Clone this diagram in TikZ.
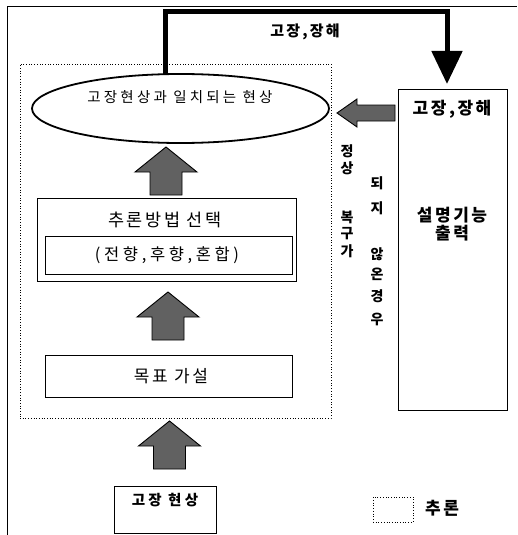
\documentclass[tikz,border=0pt]{standalone}
\usepackage{fontspec}
\setmainfont{Noto Sans CJK KR}
\newfontfamily\kr[LetterSpace=15]{Noto Sans CJK KR}
\newfontfamily\krw[LetterSpace=22]{Noto Sans CJK KR}
\usetikzlibrary{shapes.geometric,arrows.meta,patterns}
\begin{document}
\begin{tikzpicture}[x=1pt,y=-1pt,
  thinbox/.style={draw,line width=0.8pt,rectangle,inner sep=0pt},
  dotbox/.style={draw,dotted,line width=0.7pt,inner sep=0pt},
  lbl/.style={inner sep=0pt,font=\kr},
  fatfill/.style={draw=black,line width=0.9pt,fill=black!62},
  pics/fatup/.style={code={
    \draw[fatfill] (0,0) -- (31,25) -- (16,25) -- (16,48) -- (-16,48) -- (-16,25) -- (-31,25) -- cycle;}}]
\useasboundingbox (0,0) rectangle (517,535);
% outer frame
\draw[line width=0.7pt] (7,535) -- (7,6) -- (517,6);
% dotted inference area
\node[dotbox,minimum width=311pt,minimum height=354pt] (inf) at (175.5,241) {};
% ellipse
\node[ellipse,draw,line width=1.8pt,minimum width=297pt,minimum height=69pt,inner sep=0pt] (ell) at (180.5,108.5) {};
\node[lbl,font=\krw\fontsize{14.5}{15}\selectfont] (ellt) at (180,97) {고장현상과 일치되는 현상};
% right box
\node[thinbox,minimum width=109pt,minimum height=321pt] (rb) at (452.5,249.5) {};
\node[lbl,font=\kr\fontsize{17}{18}\selectfont\bfseries] (rbt) at (452,109) {고장,장해};
\node[lbl,align=center,font=\kr\fontsize{17}{19}\selectfont\bfseries] (rbx) at (452,224) {설명기능\\[-1pt]출력};
% selection box
\node[thinbox,minimum width=259pt,minimum height=83pt] (sel) at (166.5,239.5) {};
\node[lbl,font=\kr\fontsize{17.5}{18}\selectfont] (selt) at (165,220) {추론방법 선택};
\node[thinbox,minimum width=247pt,minimum height=38pt] (selin) at (168.5,255) {};
\node[lbl,font=\krw\fontsize{16.5}{17}\selectfont] (selint) at (167,255) {(전향,후향,혼합)};
% goal box
\node[thinbox,minimum width=247pt,minimum height=42pt] (goal) at (168.5,376) {};
\node[lbl,font=\kr\fontsize{17}{18}\selectfont] (goalt) at (171,376) {목표 가설};
% phenomenon box
\node[thinbox,minimum width=102pt,minimum height=47pt] (phen) at (165,509.5) {};
\node[lbl,font=\krw\fontsize{14.5}{15}\selectfont\bfseries] (phent) at (165,500) {고장 현상};
% legend
\node[dotbox,minimum width=40pt,minimum height=25pt] (leg) at (393,509.5) {};
\node[lbl,font=\kr\fontsize{17}{18}\selectfont\bfseries,anchor=west] (legt) at (425,508) {추론};
% fat up arrows
\pic at (166,147) {fatup};
\pic at (168,292) {fatup};
\pic at (169.5,421) {fatup};
% fat left arrow
\draw[fatfill] (337,113) -- (357,99) -- (357,105) -- (395,105) -- (395,121) -- (357,121) -- (357,127) -- cycle;
% thick connector
\coordinate (c1) at (165,12);
\coordinate (c2) at (447,12);
\coordinate (cs) at (165,74);
\coordinate (ce) at (447,84);
\draw[line width=5pt,line join=miter,-{Triangle[length=33pt 0 1,width=30pt 0 1]}] (cs) -- (c1) -- (c2) -- (ce);
\node[lbl,font=\kr\fontsize{15}{16}\selectfont\bfseries] (topt) at (305,32) {고장,장해};
% vertical texts
\foreach \c/\y [count=\i] in {정/151,상/168,복/217,구/234,가/251}
  \node[lbl,font=\kr\fontsize{14}{15}\selectfont\bfseries] (va\i) at (347,\y) {\c};
\foreach \c/\y [count=\i] in {되/183,지/208,않/254,온/274,경/296,우/319}
  \node[lbl,font=\kr\fontsize{14}{15}\selectfont\bfseries] (vb\i) at (377,\y) {\c};
\end{tikzpicture}
\end{document}
